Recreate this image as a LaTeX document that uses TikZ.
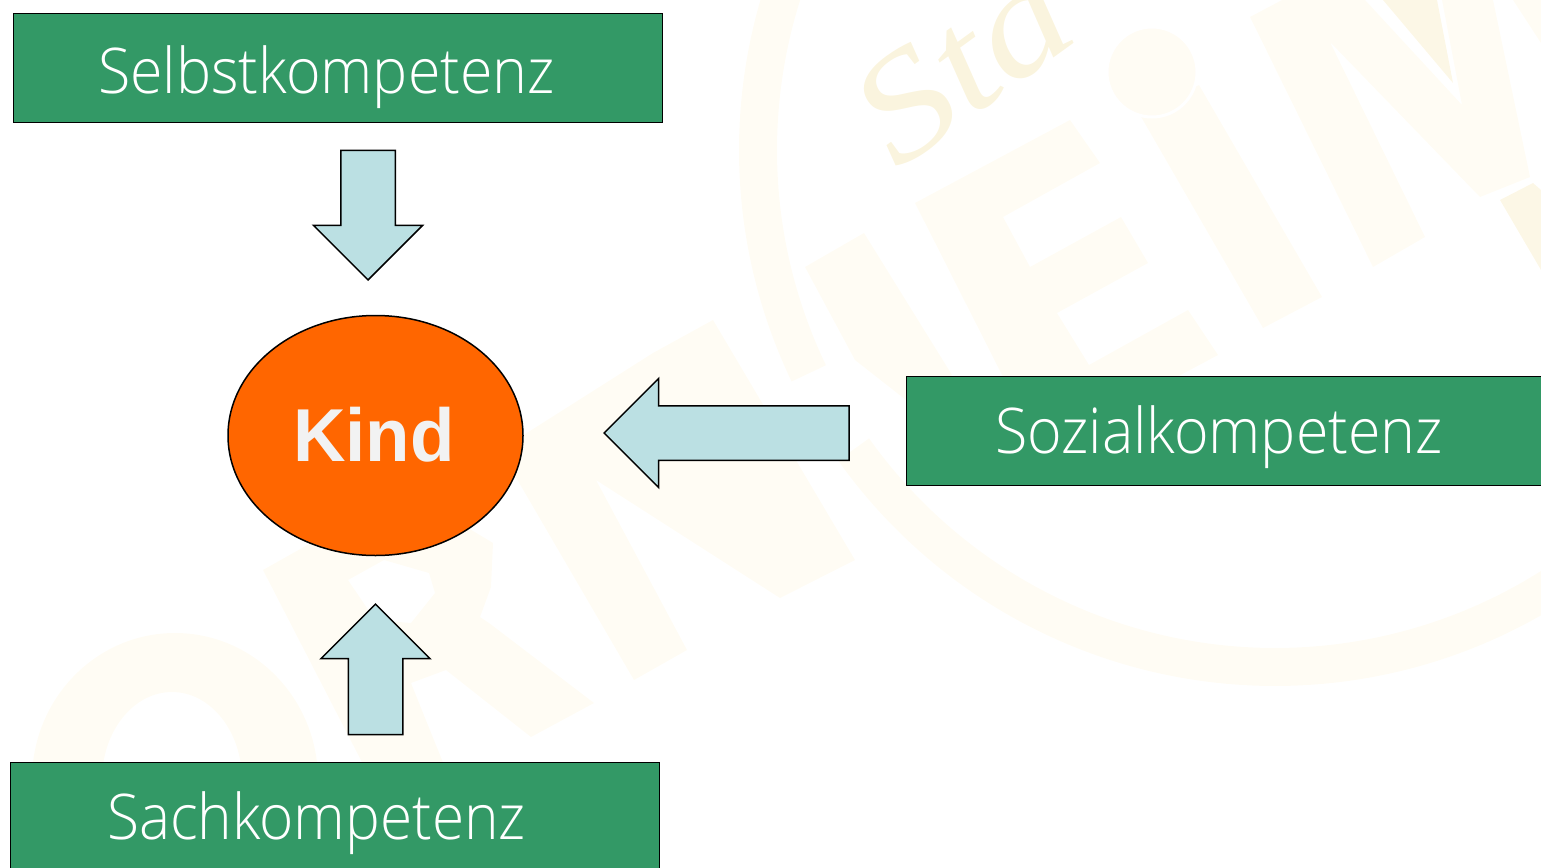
\documentclass[tikz,border=0pt]{standalone}
\usepackage{fontspec}
\setmainfont{Open Sans Light}
\newfontfamily\kindfont{Liberation Sans}[BoldFont={Liberation Sans Bold}]
\newfontfamily\wmfont{Liberation Serif}
\usetikzlibrary{shapes.arrows,shapes.geometric}
\definecolor{wm}{HTML}{FFFCF4}
\definecolor{wmdark}{HTML}{FCF7E6}
\definecolor{wmtextcol}{HTML}{FAF4DE}
\definecolor{boxgreen}{HTML}{339966}
\definecolor{arrowblue}{HTML}{BBE0E3}
\definecolor{kindorange}{HTML}{FF6600}
\tikzset{
  greenbox/.style={draw=black,line width=1.5pt,fill=boxgreen,inner sep=0pt,minimum width=648.7pt,minimum height=108.7pt},
  boxlabel/.style={text=white,inner sep=0pt,anchor=base,font=\fontsize{63}{70}\selectfont,xscale=0.938},
  blockarrow/.style={single arrow,draw=black,line width=1.5pt,fill=arrowblue,inner sep=26.5pt,
    minimum width=107.5pt,single arrow head extend=27.25pt,single arrow tip angle=90,anchor=tip}
}
\begin{document}
\begin{tikzpicture}[x=1pt,y=-1pt]
\useasboundingbox (0,0) rectangle (1541,867);
\clip (0,0) rectangle (1541,867);
% watermark
\draw[wm,line width=38pt] (1275,150) ++(230:517) arc [start angle=230,end angle=154.4,radius=517];
\draw[wm,line width=38pt] (1275,150) ++(144.6:517) arc [start angle=144.6,end angle=30,radius=517];
\fill[wm,even odd rule] (175,780) ellipse [x radius=143,y radius=147] (172,780) ellipse [x radius=70,y radius=88];
\fill[wm,even odd rule] (263,570) -- (405,490) -- (493,543) -- (491,587) -- (480,617) -- (489,623) -- (594,703) -- (531,737) -- (446,670) -- (411,683) -- (446,770) -- (366,770) -- cycle
  (348,580) -- (384,560) -- (429,573) -- (435,593) -- (411,623) -- (375,620) -- cycle;
\fill[wm] (653,353) -- (713,320) -- (855,560) -- (780,598) -- (596,480) -- (687,650) -- (634,680) -- (500,450) -- cycle;
\fill[wm] (805,267) -- (864,233) -- (952,375) -- (906,400) -- (855,360) -- cycle;
\fill[wm] (915,203) -- (1070,120) -- (1100,163) -- (1003,217) -- (1030,267) -- (1121,217) -- (1148,263) -- (1057,313) -- (1089,365) -- (1188,310) -- (1218,355) -- (1040,450) -- cycle;
\fill[wm] (1140,115) -- (1199,85) -- (1322,297) -- (1263,328) -- cycle;
\filldraw[wm,draw=white,line width=3pt] (1152,72) circle [radius=45];
\fill[wm] (1250,17) -- (1282,0) -- (1365,0) -- (1462,105) -- (1442,0) -- (1493,0) -- (1530,177) -- (1480,197) -- (1330,42) -- (1425,237) -- (1373,267) -- cycle;
\fill[wmdark] (1383,0) -- (1453,83) -- (1437,0) -- cycle;
\fill[wmdark] (1500,200) -- (1533,183) -- (1541,190) -- (1541,270) -- cycle;
\fill[wm] (1513,0) -- (1541,43) -- (1541,0) -- cycle;
\node[text=wmtextcol,rotate=36,xscale=1.2,inner sep=0pt,anchor=base west,font=\wmfont\itshape\fontsize{150}{150}\selectfont] (wmtext) at (897,172) {Sta};
% boxes
\node[greenbox] (selbst) at (338,68) {};
\node[greenbox] (sozial) at (1231,431) {};
\node[greenbox] (sach) at (335,817) {};
\node[boxlabel] (selbstlabel) at (326.5,93) {Selbstkompetenz};
\node[boxlabel] (soziallabel) at (1219,453) {Sozialkompetenz};
\node[boxlabel,xscale=0.991] (sachlabel) at (316.5,839) {Sachkompetenz};
% centre
\node[draw=black,line width=1.5pt,fill=kindorange,ellipse,inner sep=0pt,minimum width=295pt,minimum height=240pt] (kind) at (375.5,435.5) {};
\node[text=white!95!black,inner sep=0pt,anchor=base,font=\kindfont\bfseries\fontsize{75}{75}\selectfont,xscale=0.97] (kindlabel) at (374,461) {Kind};
% arrows
\node[blockarrow,minimum height=129.5pt,shape border rotate=270] (arrowtop) at (368,281) {};
\node[blockarrow,minimum height=245pt,shape border rotate=180] (arrowright) at (603,433) {};
\node[blockarrow,minimum height=130.5pt,shape border rotate=90] (arrowbottom) at (375.5,603) {};
\end{tikzpicture}
\end{document}
